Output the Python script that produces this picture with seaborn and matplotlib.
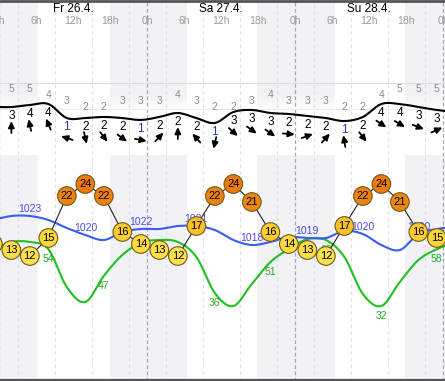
import numpy as np
import pandas as pd
import seaborn as sns
import matplotlib.pyplot as plt
from matplotlib.colors import LinearSegmentedColormap
from matplotlib.transforms import offset_copy

# time axis in hours from Fr 26.4. 0h, one value every 3h
hours = list(range(-1, 75, 3))
temps = [14, 13, 12, 15, 22, 24, 22, 16, 14, 13, 12, 17, 22, 24, 21, 16, 14, 13, 12, 17, 22, 24, 21, 16, 15, 14]
pressure = [1022.6, 1023.4, 1023.4, 1022.6, 1021.0, 1019.6, 1018.6, 1020.2, 1020.8, 1020.8, 1021.4, 1021.4, 1020.6,
            1018.6, 1017.6, 1018.2, 1019.2, 1019.0, 1019.0, 1020.4, 1019.8, 1017.6, 1016.6, 1019.8, 1020.8, 1021.2]
humidity = [57.6, 61.2, 61.2, 58.0, 41.0, 34.3, 46.0, 55.4, 60.8, 62.1, 61.2, 54.5, 38.3,
            32.5, 42.4, 52.2, 58.0, 62.5, 62.1, 54.5, 37.9, 32.5, 43.3, 53.1, 58.0, 61.0]
wind_kmh = [17.5, 17.5, 19.2, 20.0, 8.3, 8.3, 9.2, 8.3, 6.7, 9.2, 12.5, 8.3, 4.2,
            13.3, 15.0, 12.5, 11.7, 10.0, 8.3, 5.8, 9.2, 20.0, 20.0, 17.5, 15.0, 13.3]

# symbol row (hours 2 .. 71)
sym_hours = list(range(2, 72, 3))
wind_bft = [3, 4, 4, 1, 2, 2, 2, 1, 2, 2, 2, 1, 3, 3, 3, 2, 2, 2, 1, 2, 4, 4, 3, 3]
gust_bft = [5, 5, 4, 3, 2, 2, 3, 3, 3, 4, 3, 2, 2, 3, 4, 3, 3, 3, 2, 2, 4, 5, 5, 5]
wind_dir = [180, 168, 157, 108, 347, 323, 306, 281, 223, 180, 138, 14,
            312, 305, 305, 275, 250, 222, 171, 322, 304, 300, 291, 246]

p_label_hours = [5, 14, 23, 32, 41, 50, 59, 68]
p_label_text = ["1023", "1020", "1022", "1021", "1018", "1019", "1020", "1020"]
rh_label_hours = [8, 17, 26, 35, 44, 53, 62, 71]
rh_label_text = ["54", "47", "62", "36", "51", "63", "32", "58"]

day_names = ["Fr 26.4.", "Sa 27.4.", "Su 28.4."]
day_noon = [12, 36, 60]
hour_ticks = list(range(0, 73, 6))
hour_text = ["0h", "6h", "12h", "18h"] * 3 + ["0h"]
daylight = [(6.4, 17.8), (30.5, 41.7), (54.5, 65.6)]

sns.set_style("white")
plt.rcParams['font.family'] = ['Liberation Sans', 'DejaVu Sans']

W, H = 445, 381
X0, X1 = 0.162, 72.32
fig = plt.figure(figsize=(W / 100, H / 100), dpi=100)


def layer(ylim):
    ax = fig.add_axes([0, 0, 1, 1])
    ax.set_xlim(X0, X1)
    ax.set_ylim(*ylim)
    ax.axis('off')
    ax.patch.set_alpha(0)
    return ax


def smooth(x, y, n=10):
    x = np.asarray(x, float)
    y = np.asarray(y, float)
    xp = np.concatenate([[2 * x[0] - x[1]], x, [2 * x[-1] - x[-2]]])
    yp = np.concatenate([[2 * y[0] - y[1]], y, [2 * y[-1] - y[-2]]])
    t = np.linspace(0, 1, n, endpoint=False)
    xs, ys = [], []
    for i in range(1, len(xp) - 2):
        p0, p1, p2, p3 = yp[i - 1:i + 3]
        ys.append(0.5 * (2 * p1 + (-p0 + p2) * t + (2 * p0 - 5 * p1 + 4 * p2 - p3) * t ** 2
                         + (-p0 + 3 * p1 - 3 * p2 + p3) * t ** 3))
        xs.append(xp[i] + (xp[i + 1] - xp[i]) * t)
    xs.append([x[-1]])
    ys.append([y[-1]])
    return np.concatenate(xs), np.concatenate(ys)


# background layer in pixel rows
base = layer((H, 0))
base.axvspan(X0, X1, color='#f1f1f6', zorder=0)
for a, b in daylight:
    base.axvspan(a, b, color='white', zorder=0.1)
band = np.ones((80, 1, 4))
rows = np.arange(80) + 80
band[:, 0, 3] = np.clip((rows - 92) / 20, 0, 1) * (rows < 155)
base.imshow(band, extent=(X0, X1, 160, 80), aspect='auto', zorder=0.2, interpolation='bilinear')
for h in range(3, 72, 6):
    base.axvline(h, color='#dedee6', lw=0.8, ls=(0, (3, 3)), zorder=0.3)
for h in [0, 24, 48, 72]:
    base.axvline(h, color='#a8a8b0', lw=0.9, ls=(0, (3, 2)), zorder=0.3)
base.axhline(83, color='#dcdcdc', lw=0.8, zorder=0.3)
base.axhline(109, color='#ececec', lw=0.8, zorder=0.3)
base.axhline(0.8, color='#555555', lw=2.0, zorder=5)
base.axhline(380.2, color='#555555', lw=1.6, zorder=5)
for name, h in zip(day_names, day_noon):
    base.text(h, 8.5, name, ha='center', va='center', fontsize=8.5, color='black')
for h, s in zip(hour_ticks, hour_text):
    base.text(h, 21, s, ha='center', va='center', fontsize=7.5, color='#9a9a9a')

# relative humidity
ax_rh = layer((-1.126, 169.73))
xs, ys = smooth(hours, humidity)
sns.lineplot(x=xs, y=ys, ax=ax_rh, color='#1fc01f', lw=1.5, sort=False, estimator=None)
rh_map = dict(zip(hours, humidity))
for h, s in zip(rh_label_hours, rh_label_text):
    ax_rh.annotate(s, (h, rh_map[h]), xytext=(0, -7), textcoords='offset points',
                   ha='center', va='center', fontsize=7.5, color='#22b022')
ax_rh.set_xlim(X0, X1)

# pressure
ax_p = layer((990.4, 1066.6))
xs, ys = smooth(hours, pressure)
sns.lineplot(x=xs, y=ys, ax=ax_p, color='#3a5cf0', lw=1.5, sort=False, estimator=None)
p_map = dict(zip(hours, pressure))
for h, s in zip(p_label_hours, p_label_text):
    ax_p.annotate(s, (h, p_map[h]), xytext=(0, 5), textcoords='offset points',
                  ha='center', va='center', fontsize=7.5, color='#4b4bf0')
ax_p.set_xlim(X0, X1)

# wind curve, numbers and arrows
ax_w = layer((-210.83, 106.67))
xs, ys = smooth(hours, wind_kmh)
sns.lineplot(x=xs, y=ys, ax=ax_w, color='black', lw=1.5, sort=False, estimator=None)
w_map = dict(zip(hours, wind_kmh))
for h, b, d in zip(sym_hours, wind_bft, wind_dir):
    v = w_map[h]
    ax_w.annotate(str(b), (h, v), xytext=(0, -6.5), textcoords='offset points',
                  ha='center', va='center', fontsize=8.5,
                  color='#1f3f9a' if b == 1 else 'black')
    ang = np.radians(d + 180)
    dx, dy = 6 * np.sin(ang), 6 * np.cos(ang)
    head = offset_copy(ax_w.transData, fig=fig, x=dx, y=-20 + dy, units='dots')
    tail = offset_copy(ax_w.transData, fig=fig, x=-dx, y=-20 - dy, units='dots')
    ax_w.annotate('', xy=(h, v), xycoords=head, xytext=(h, v), textcoords=tail,
                  arrowprops=dict(arrowstyle='-|>,head_length=0.38,head_width=0.18',
                                  color='black', lw=1.3, shrinkA=0, shrinkB=0))
ax_w.set_xlim(X0, X1)

# gusts
ax_g = layer((-43.67, 19.83))
for h, g in zip(sym_hours, gust_bft):
    ax_g.text(h, g, str(g), ha='center', va='center', fontsize=7.5, color='#8c8c8c')

# temperature circles
ax_t = layer((-8.833, 54.667))
cmap = LinearSegmentedColormap.from_list(
    'temp', [(0, '#fde24c'), (0.25, '#fcd736'), (0.42, '#f8c02a'), (0.62, '#f08c12'), (1, '#ee7a0a')])
df = pd.DataFrame({'hour': hours, 'temp': temps})
sns.lineplot(data=df, x='hour', y='temp', ax=ax_t, color='#222222', lw=0.8, sort=False, estimator=None)
sns.scatterplot(data=df, x='hour', y='temp', hue='temp', palette=cmap, hue_norm=(12, 24),
                s=180, edgecolor='#6e5a1a', linewidth=0.8, legend=False, ax=ax_t, zorder=3)
for h, t in zip(hours, temps):
    ax_t.text(h, t, str(t), ha='center', va='center', fontsize=8, color='black', zorder=4)
ax_t.set_xlim(X0, X1)
ax_t.set_ylim(-8.833, 54.667)
ax_t.axis('off')

fig.savefig('out.png', dpi=100)
